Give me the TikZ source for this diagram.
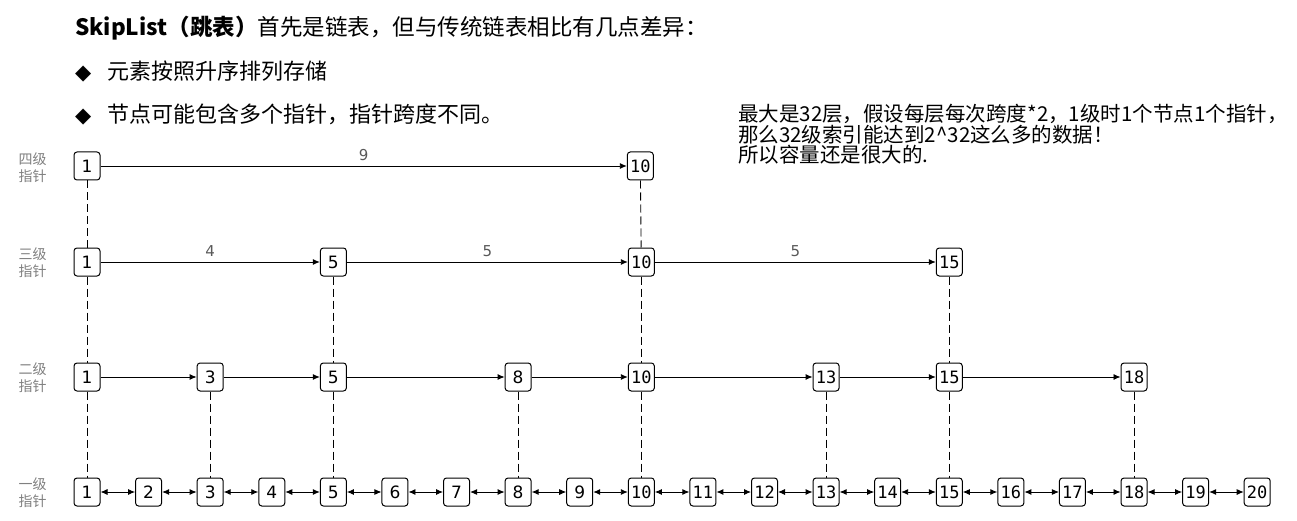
\documentclass[tikz,border=0pt]{standalone}
\usepackage{fontspec}
\newfontfamily\cjk{Noto Sans CJK SC}
\newfontfamily\dvs{DejaVu Sans}
\newfontfamily\dvm{DejaVu Sans Mono}
\usetikzlibrary{arrows.meta}
\begin{document}
\begin{tikzpicture}[x=1pt,y=-1pt,
  nd/.style={draw, line width=1pt, rounded corners=3pt, minimum width=26pt, minimum height=28pt, inner sep=0pt, font=\dvs\fontsize{17}{17}\selectfont},
  ndd/.style={nd, font=\dvm\fontsize{17}{17}\selectfont},
  lvl/.style={font=\cjk\fontsize{14}{17}\selectfont, text=gray, align=left, anchor=west},
  ptr/.style={-{Latex[length=7pt,width=6pt]}, line width=0.9pt},
  dbl/.style={{Latex[length=7pt,width=6pt]}-{Latex[length=7pt,width=6pt]}, line width=0.9pt},
  vd/.style={dash pattern=on 8pt off 4pt, line width=0.9pt},
  wt/.style={font=\dvs\fontsize{15}{15}\selectfont, text=black!65, above=2pt}
]
\useasboundingbox[fill=white] (0,0) rectangle (1297,521);

% header
\node[anchor=base west, inner sep=0pt, font=\cjk\fontsize{22.5}{22.5}\selectfont] (title) at (75,36)
  {{\bfseries SkipList（跳表）}首先是链表，但与传统链表相比有几点差异：};
\node[anchor=base west, inner sep=0pt, font=\dvs\fontsize{21}{21}\selectfont] (b1s) at (75,80) {◆};
\node[anchor=base west, inner sep=0pt, font=\cjk\fontsize{22}{22}\selectfont] (b1t) at (107,80) {元素按照升序排列存储};
\node[anchor=base west, inner sep=0pt, font=\dvs\fontsize{21}{21}\selectfont] (b2s) at (75,123) {◆};
\node[anchor=base west, inner sep=0pt, font=\cjk\fontsize{22}{22}\selectfont] (b2t) at (107,123) {节点可能包含多个指针，指针跨度不同。};
\node[anchor=north west, inner sep=0pt, align=left, font=\cjk\fontsize{20.5}{20.5}\selectfont] (note) at (738,104)
  {最大是32层，假设每层每次跨度*2，1级时1个节点1个指针，\\那么32级索引能达到2\^{}32这么多的数据！\\所以容量还是很大的.};

% level labels
\node[lvl] (l4) at (15,168) {四级\\指针};
\node[lvl] (l3) at (15,263) {三级\\指针};
\node[lvl] (l2) at (15,378) {二级\\指针};
\node[lvl] (l1) at (15,493) {一级\\指针};

% level 1
\foreach \i in {1,...,20}{
  \pgfmathsetmacro\xx{87+(\i-1)*61.59}
  \ifnum\i<10
    \node[nd] (a\i) at (\xx,492) {\i};
  \else
    \node[ndd] (a\i) at (\xx,492) {\i};
  \fi
}
% level 2
\foreach \i in {1,3,5,8,10,13,15,18}{
  \pgfmathsetmacro\xx{87+(\i-1)*61.59}
  \ifnum\i<10
    \node[nd] (b\i) at (\xx,377) {\i};
  \else
    \node[ndd] (b\i) at (\xx,377) {\i};
  \fi
}
% level 3
\foreach \i in {1,5,10,15}{
  \pgfmathsetmacro\xx{87+(\i-1)*61.59}
  \ifnum\i<10
    \node[nd] (c\i) at (\xx,262) {\i};
  \else
    \node[ndd] (c\i) at (\xx,262) {\i};
  \fi
}
% level 4
\node[nd] (d1) at (87,166) {1};
\node[ndd] (d10) at (640.31,166) {10};

% dashed verticals
\draw[vd] (d1) -- (c1); \draw[vd] (c1) -- (b1); \draw[vd] (b1) -- (a1);
\draw[vd] (d10) -- (c10); \draw[vd] (c10) -- (b10); \draw[vd] (b10) -- (a10);
\draw[vd] (c5) -- (b5); \draw[vd] (b5) -- (a5);
\draw[vd] (c15) -- (b15); \draw[vd] (b15) -- (a15);
\foreach \i in {3,8,13,18}{ \draw[vd] (b\i) -- (a\i); }

% level 4 pointer
\draw[ptr] (d1) -- node[wt] {9} (d10);
% level 3 pointers
\draw[ptr] (c1) -- node[wt] {4} (c5);
\draw[ptr] (c5) -- node[wt] {5} (c10);
\draw[ptr] (c10) -- node[wt] {5} (c15);
% level 2 pointers
\draw[ptr] (b1) -- (b3);
\draw[ptr] (b3) -- (b5);
\draw[ptr] (b5) -- (b8);
\draw[ptr] (b8) -- (b10);
\draw[ptr] (b10) -- (b13);
\draw[ptr] (b13) -- (b15);
\draw[ptr] (b15) -- (b18);
% level 1 double links
\foreach \i [evaluate=\i as \j using int(\i+1)] in {1,...,19}{
  \draw[dbl] (a\i) -- (a\j);
}
\end{tikzpicture}
\end{document}
